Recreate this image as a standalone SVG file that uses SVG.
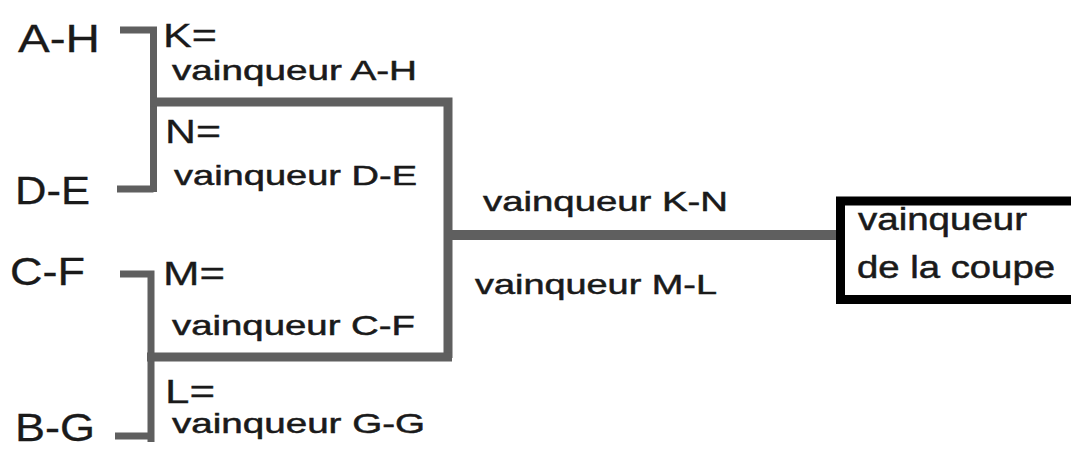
<svg xmlns="http://www.w3.org/2000/svg" width="1071" height="450" viewBox="0 0 1071 450">
<style>
text{font-family:"Liberation Sans",Arial,sans-serif;fill:#1a1a1a;stroke:#1a1a1a;stroke-width:0.5}
.big{font-size:38px;stroke-width:0.3}
.eq{font-size:33px;stroke-width:0.3}
.sm{font-size:28px}
.bx{font-size:31px}
.ln{stroke:#5f5f5f;fill:none;stroke-linecap:butt}
.t6{stroke-width:7}
.t8{stroke-width:9}
</style>
<rect width="1071" height="450" fill="#ffffff"/>
<g id="connectors">
<path class="ln t6" d="M120 30H153.5V192M117 189H153.5"/>
<path class="ln t8" d="M150 102H448V358"/>
<path class="ln t6" d="M120 274H151V442M115 436H151"/>
<path class="ln t8" d="M147 357H452"/>
<path class="ln" stroke-width="10" d="M448 235H838"/>
</g>
<g id="node-AH"><text class="big" x="18" y="52" textLength="82" lengthAdjust="spacingAndGlyphs">A-H</text></g>
<g id="node-DE"><text class="big" x="15" y="204" textLength="75" lengthAdjust="spacingAndGlyphs">D-E</text></g>
<g id="node-CF"><text class="big" x="10" y="285" textLength="75" lengthAdjust="spacingAndGlyphs">C-F</text></g>
<g id="node-BG"><text class="big" x="15" y="441" textLength="80" lengthAdjust="spacingAndGlyphs">B-G</text></g>
<g id="node-K">
<text class="eq" x="163" y="47" textLength="54" lengthAdjust="spacingAndGlyphs">K=</text>
<text class="sm" x="172" y="80" textLength="245" lengthAdjust="spacingAndGlyphs">vainqueur A-H</text>
</g>
<g id="node-N">
<text class="eq" x="165" y="143" textLength="56" lengthAdjust="spacingAndGlyphs">N=</text>
<text class="sm" x="174" y="185" textLength="243" lengthAdjust="spacingAndGlyphs">vainqueur D-E</text>
</g>
<g id="node-M">
<text class="eq" x="163" y="285" textLength="62" lengthAdjust="spacingAndGlyphs">M=</text>
<text class="sm" x="172" y="335" textLength="243" lengthAdjust="spacingAndGlyphs">vainqueur C-F</text>
</g>
<g id="node-L">
<text class="eq" x="165" y="403" textLength="50" lengthAdjust="spacingAndGlyphs">L=</text>
<text class="sm" x="172" y="433" textLength="253" lengthAdjust="spacingAndGlyphs">vainqueur G-G</text>
</g>
<g id="node-KN"><text class="sm" x="483" y="211" textLength="245" lengthAdjust="spacingAndGlyphs">vainqueur K-N</text></g>
<g id="node-ML"><text class="sm" x="475" y="294" textLength="242" lengthAdjust="spacingAndGlyphs">vainqueur M-L</text></g>
<g id="node-coupe">
<rect x="840.5" y="201" width="240" height="98.5" fill="#ffffff" stroke="#000000" stroke-width="9"/>
<text class="bx" x="858" y="230" textLength="169" lengthAdjust="spacingAndGlyphs">vainqueur</text>
<text class="bx" x="857" y="278" textLength="198" lengthAdjust="spacingAndGlyphs">de la coupe</text>
</g>
</svg>
